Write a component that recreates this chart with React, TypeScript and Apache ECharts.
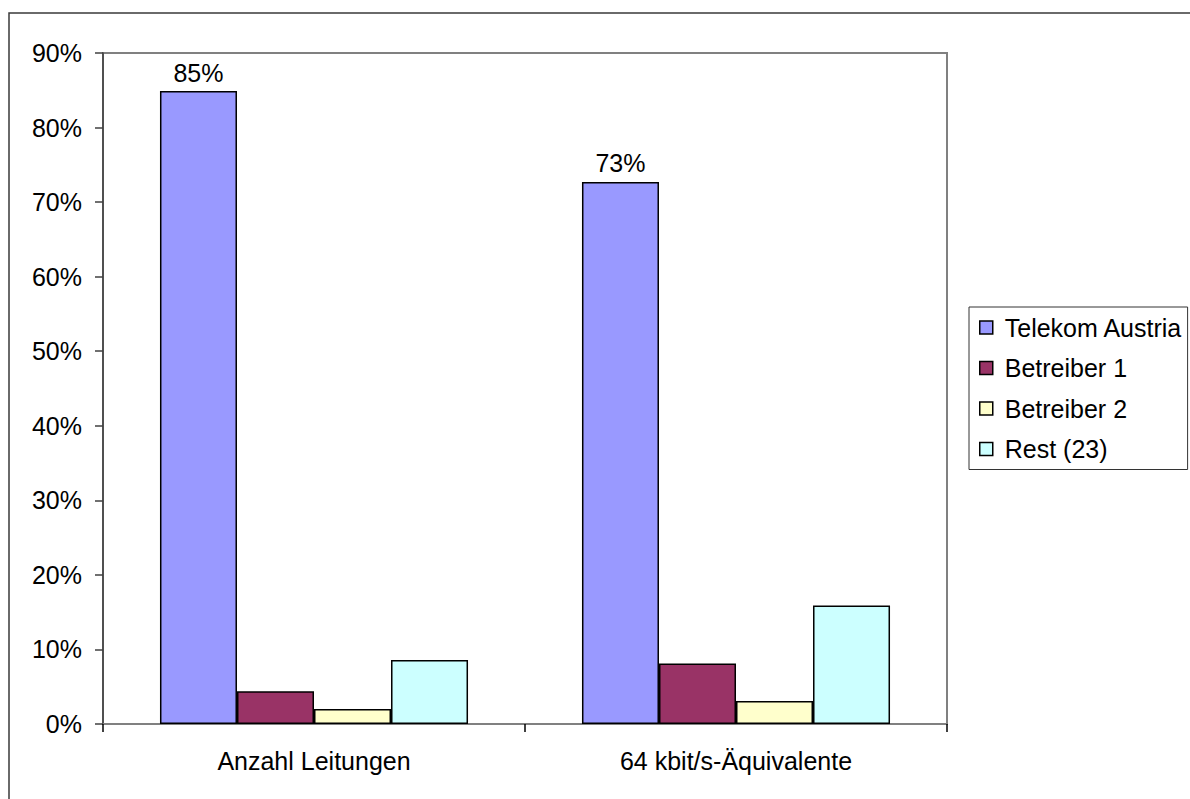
import React, { useEffect, useRef } from "react";
import * as echarts from "echarts";

const categories = ["Anzahl Leitungen", "64 kbit/s-Äquivalente"];
const seriesNames = ["Telekom Austria", "Betreiber 1", "Betreiber 2", "Rest (23)"];
const telekom = [84.9, 72.7];
const betreiber1 = [4.4, 8.1];
const betreiber2 = [2.0, 3.1];
const rest = [8.6, 15.9];
const yTicks = [0, 10, 20, 30, 40, 50, 60, 70, 80, 90];
const colors = ["#9999FF", "#993366", "#FFFFCC", "#CCFFFF"];

const FONT = "'Liberation Sans', Arial, sans-serif";
const FS = 25;

export default function App() {
  const ref = useRef<HTMLDivElement>(null);
  useEffect(() => {
    if (!ref.current) return;
    const chart = echarts.init(ref.current, null, { renderer: "svg" });
    const values = [telekom, betreiber1, betreiber2, rest];
    chart.setOption({
      animation: false,
      backgroundColor: "#ffffff",
      textStyle: { fontFamily: FONT, color: "#000" },
      graphic: [
        {
          type: "rect",
          shape: { x: 9, y: 13, width: 1400, height: 1000 },
          style: { fill: "none", stroke: "#3a3a3a", lineWidth: 1.5 },
          silent: true,
          z: 0,
        },
      ],
      grid: {
        left: 103,
        right: 243,
        top: 53,
        bottom: 75,
        show: true,
        borderColor: "#808080",
        borderWidth: 2,
        backgroundColor: "transparent",
      },
      legend: {
        orient: "vertical",
        left: 969,
        top: 307,
        padding: [8, 5, 8, 10],
        itemWidth: 13,
        itemHeight: 13,
        itemGap: 15.5,
        borderColor: "#333",
        borderWidth: 1,
        backgroundColor: "#fff",
        icon: "rect",
        itemStyle: { borderColor: "#000", borderWidth: 1.5 },
        textStyle: { fontFamily: FONT, fontSize: FS, color: "#000", padding: [0, 0, 0, 7] },
        data: seriesNames,
      },
      xAxis: {
        type: "category",
        data: categories,
        boundaryGap: true,
        axisLine: { lineStyle: { color: "#808080", width: 2 } },
        axisTick: { show: true, length: 8, alignWithLabel: false, lineStyle: { color: "#000", width: 1.5 } },
        axisLabel: { fontFamily: FONT, fontSize: FS, color: "#000", margin: 24 },
      },
      yAxis: {
        type: "value",
        min: yTicks[0],
        max: yTicks[yTicks.length - 1],
        interval: 10,
        splitLine: { show: false },
        axisLine: { show: true, lineStyle: { color: "#404040", width: 1.5 } },
        axisTick: { show: true, length: 8, lineStyle: { color: "#404040", width: 1.5 } },
        axisLabel: { fontFamily: FONT, fontSize: FS, color: "#000", margin: 21, formatter: "{value}%" },
      },
      series: seriesNames.map((name, i) => ({
        name,
        type: "bar",
        data: values[i],
        barGap: "0%",
        barCategoryGap: "27%",
        itemStyle: { color: colors[i], borderColor: "#000", borderWidth: 1.5 },
        label: {
          show: i === 0,
          position: "top",
          distance: 6,
          fontFamily: FONT,
          fontSize: FS,
          color: "#000",
          formatter: (p: any) => Math.round(p.value) + "%",
        },
      })),
    });
    return () => chart.dispose();
  }, []);
  return (
    <div
      ref={ref}
      style={{ position: "absolute", left: 0, top: 0, width: 1190, height: 799 }}
    />
  );
}
